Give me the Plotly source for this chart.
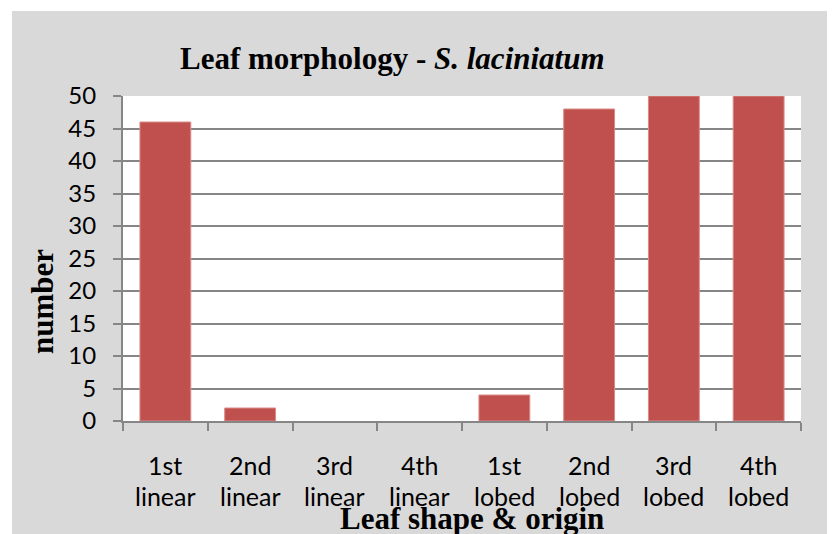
import plotly.graph_objects as go

categories = ["1st linear", "2nd linear", "3rd linear", "4th linear",
              "1st lobed", "2nd lobed", "3rd lobed", "4th lobed"]
label_line1 = ["1st", "2nd", "3rd", "4th", "1st", "2nd", "3rd", "4th"]
label_line2 = ["linear", "linear", "linear", "linear", "lobed", "lobed", "lobed", "lobed"]
values = [46, 2, 0, 0, 4, 48, 50, 50]
y_ticks = [0, 5, 10, 15, 20, 25, 30, 35, 40, 45, 50]

GRAY_BG = "#D9D9D9"
AXIS = "#868686"
BAR = "#C0504D"
BAR_EDGE = "#D98C8A"
SANS = "Lato, Carlito, Calibri, sans-serif"
SERIF = "Liberation Serif, Times New Roman, serif"

# page offset (the html body has an 8px margin)
OFF = 8
W, H = 835 - OFF, 534 - OFF
# plot area in page pixels: x 123..801, y 96..421
L, R, T, B = 123 - OFF, 835 - 801, 96 - OFF, 534 - 421
pw = W - L - R
ph = H - T - B


def px_x(x):
    return (x - OFF - L) / pw


def px_y(y):
    return (H - B - (y - OFF)) / ph


fig = go.Figure()
fig.add_trace(go.Bar(
    x=categories, y=values,
    marker=dict(color=BAR,
                line=dict(color=BAR_EDGE, width=[1 if v > 0 else 0 for v in values])),
    width=0.6,
))

annotations = []
for i, c in enumerate(categories):
    annotations.append(dict(x=c, xref="x", y=px_y(465), yref="paper",
                            text=label_line1[i], showarrow=False,
                            xanchor="center", yanchor="middle",
                            font=dict(family=SANS, size=25, color="#000")))
    annotations.append(dict(x=c, xref="x", y=px_y(496), yref="paper",
                            text=label_line2[i], showarrow=False,
                            xanchor="center", yanchor="middle",
                            font=dict(family=SANS, size=25, color="#000")))

annotations.append(dict(x=px_x(392), xref="paper", y=px_y(59), yref="paper",
                        text="<b>Leaf morphology - <i>S. laciniatum</i></b>",
                        showarrow=False, xanchor="center", yanchor="middle",
                        font=dict(family=SERIF, size=31, color="#000")))
annotations.append(dict(x=px_x(472), xref="paper", y=px_y(518), yref="paper",
                        text="<b>Leaf shape &amp; origin</b>",
                        showarrow=False, xanchor="center", yanchor="middle",
                        font=dict(family=SERIF, size=31, color="#000")))
annotations.append(dict(x=px_x(42), xref="paper", y=px_y(302), yref="paper",
                        text="<b>number</b>", textangle=-90,
                        showarrow=False, xanchor="center", yanchor="middle",
                        font=dict(family=SERIF, size=31, color="#000")))

shapes = [
    dict(type="rect", xref="paper", yref="paper", x0=px_x(0), x1=px_x(900),
         y0=px_y(11), y1=px_y(-5), fillcolor="white", line=dict(width=0), layer="above"),
    dict(type="rect", xref="paper", yref="paper", x0=px_x(-5), x1=px_x(12),
         y0=px_y(600), y1=px_y(-5), fillcolor="white", line=dict(width=0), layer="above"),
]

fig.update_layout(
    width=W, height=H,
    margin=dict(l=L, r=R, t=T, b=B, pad=0),
    paper_bgcolor=GRAY_BG, plot_bgcolor="white",
    showlegend=False,
    annotations=annotations,
    shapes=shapes,
    xaxis=dict(type="category", tickson="boundaries", ticks="outside", ticklen=8,
               tickcolor=AXIS, tickwidth=2, showticklabels=False,
               showline=True, linecolor=AXIS, linewidth=2, showgrid=False,
               range=[-0.5, 7.5]),
    yaxis=dict(range=[0, 50], tickvals=y_ticks, ticks="outside", ticklen=8,
               tickcolor=AXIS, tickwidth=2, showline=True, linecolor=AXIS,
               linewidth=2, showgrid=True, gridcolor=AXIS, gridwidth=1.5,
               zeroline=False, ticklabelstandoff=12,
               tickfont=dict(family=SANS, size=24, color="#000")),
)

fig.write_html("out.html")
